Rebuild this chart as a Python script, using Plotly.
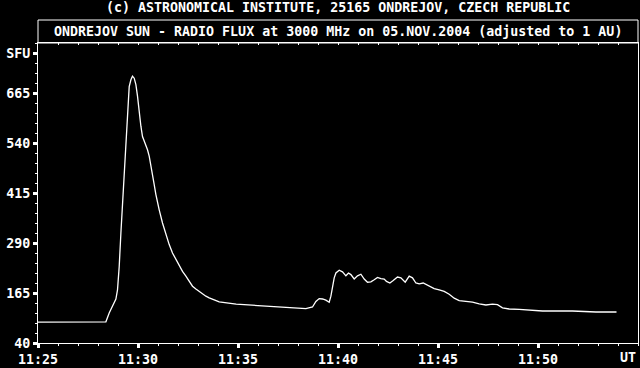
import datetime as dt
import plotly.graph_objects as go

# ---- data ----
# minutes after 11:25 UT
minutes = [0.0, 1.61, 1.81, 2.06, 2.26, 3.395, 3.56, 3.725, 3.895, 3.975, 4.06, 4.145,
           4.225, 4.31, 4.395, 4.475, 4.56, 4.645, 4.725, 4.81, 4.895, 4.975, 5.06,
           5.145, 5.225, 5.31, 5.395, 5.475, 5.56, 5.645, 5.725, 5.81, 5.895, 5.975,
           6.06, 6.225, 6.395, 6.56, 6.725, 6.895, 7.06, 7.225, 7.395, 7.56, 7.725,
           7.895, 8.06, 8.225, 8.395, 8.56, 9.06, 9.91, 11.11, 12.36, 13.06, 13.395,
           13.725, 13.895, 14.06, 14.225, 14.395, 14.56, 14.645, 14.725, 14.81, 14.895,
           14.975, 15.06, 15.225, 15.395, 15.525, 15.645, 15.81, 15.975, 16.145, 16.31,
           16.475, 16.645, 16.81, 16.975, 17.145, 17.31, 17.425, 17.595, 17.76, 17.975,
           18.145, 18.36, 18.56, 18.725, 18.895, 19.06, 19.26, 19.475, 19.645, 19.81,
           20.06, 20.31, 20.56, 20.81, 21.06, 21.395, 21.725, 22.06, 22.395, 22.725,
           22.975, 23.225, 23.56, 24.06, 24.56, 25.225, 26.725, 27.895, 28.925]
flux_sfu = [92, 93, 92, 93, 92, 93, 115, 131, 150, 173, 231, 315,
            390, 473, 556, 632, 681, 698, 707, 702, 686, 657, 615,
            582, 556, 544, 536, 523, 507, 486, 461, 436, 411, 390,
            373, 340, 311, 286, 265, 248, 232, 219, 207, 194, 182,
            175, 169, 162, 157, 153, 143, 137, 133, 130, 128, 126,
            130, 144, 151, 150, 147, 142, 157, 182, 203, 215,
            219, 222, 218, 208, 215, 211, 200, 208, 212, 200,
            192, 193, 198, 204, 201, 200, 194, 190, 196, 205,
            203, 192, 207, 203, 190, 188, 190, 184, 180, 176,
            173, 169, 162, 152, 146, 144, 142, 138, 135, 137,
            136, 128, 125, 124, 122.5, 120, 120, 117.5, 117.5]

y_tickvals = [40, 165, 290, 415, 540, 665, 765]
y_ticktext = ["40", "165", "290", "415", "540", "665", "SFU"]
x_ticktext = ["11:25", "11:30", "11:35", "11:40", "11:45", "11:50", ""]

title1 = "(c) ASTRONOMICAL INSTITUTE, 25165 ONDREJOV, CZECH REPUBLIC"
title2 = "ONDREJOV SUN - RADIO FLUX at 3000 MHz on 05.NOV.2004 (adjusted to 1 AU)"

# ---- build ----
t0 = dt.datetime(2004, 11, 5, 11, 25)
times = [t0 + dt.timedelta(minutes=m) for m in minutes]
t_end = t0 + dt.timedelta(minutes=30)
major_x = [t0 + dt.timedelta(minutes=5 * i) for i in range(7)]
minor_x = [t0 + dt.timedelta(minutes=i) for i in range(31)]

FONT = "DejaVu Sans Mono"
W = "white"
TF = dict(family=FONT, size=13.3, color=W, weight="bold")

fig = go.Figure()
fig.add_trace(go.Scatter(x=times, y=flux_sfu, mode="lines",
                         line=dict(color=W, width=1.3), hoverinfo="skip",
                         showlegend=False))
# dummy trace to activate the top axis
fig.add_trace(go.Scatter(x=[t0], y=[None], xaxis="x2", mode="lines",
                         hoverinfo="skip", showlegend=False))

fig.update_layout(
    width=640, height=368,
    margin=dict(l=38, r=2, t=43, b=25),
    paper_bgcolor="black", plot_bgcolor="black",
    font=TF,
    xaxis=dict(type="date", range=[t0, t_end], showgrid=False, zeroline=False,
               showline=True, linecolor=W, linewidth=1,
               tickmode="array", tickvals=major_x, ticktext=x_ticktext,
               ticks="outside", ticklen=4, tickwidth=3, tickcolor=W,
               tickfont=TF,
               minor=dict(tickmode="array", tickvals=minor_x, ticks="outside",
                          ticklen=2, tickwidth=1, tickcolor=W, showgrid=False)),
    xaxis2=dict(type="date", range=[t0, t_end], overlaying="x", side="top",
                anchor="y", showgrid=False, zeroline=False, showline=True,
                linecolor=W, linewidth=1, showticklabels=False,
                tickmode="array", tickvals=minor_x, ticks="inside", ticklen=2,
                tickwidth=1, tickcolor=W),
    yaxis=dict(range=[40, 790], showgrid=False, zeroline=False,
               showline=True, linecolor=W, linewidth=1, mirror=True,
               tickmode="array", tickvals=y_tickvals, ticktext=y_ticktext,
               ticks="outside", ticklen=4, tickwidth=3, tickcolor=W,
               tickfont=TF,
               minor=dict(tickmode="linear", tick0=40, dtick=25, ticks="outside",
                          ticklen=2, tickwidth=1, tickcolor=W, showgrid=False)),
)

# title box above the plot
fig.add_shape(type="rect", xref="paper", yref="paper", x0=0, x1=1,
              y0=1, y1=1 + 23 / 300, line=dict(color=W, width=1))

fig.add_annotation(text=title1, xref="paper", yref="paper", x=0.5, y=335 / 300,
                   xanchor="center", yanchor="middle", showarrow=False, font=TF)
fig.add_annotation(text=title2, xref="paper", yref="paper", x=0.5, y=1 + 11.5 / 300,
                   xanchor="center", yanchor="middle", showarrow=False, font=TF)
fig.add_annotation(text="UT", xref="paper", yref="paper", x=(628 - 38) / 600,
                   y=-14 / 300, xanchor="center", yanchor="middle", showarrow=False,
                   font=TF)

fig.write_html("out.html")
